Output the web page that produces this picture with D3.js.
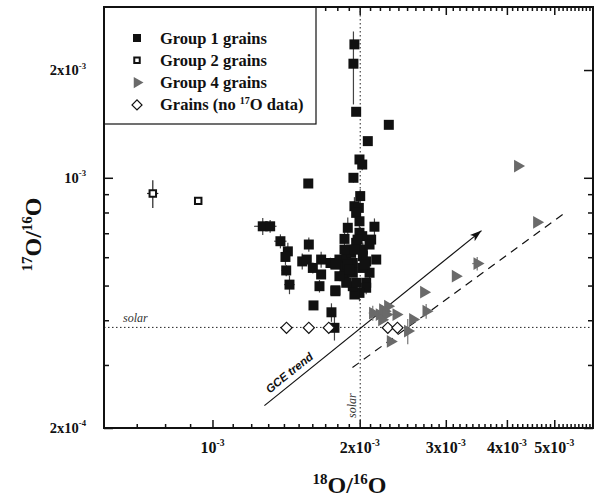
<!DOCTYPE html>
<html>
<head>
<meta charset="utf-8">
<script src="https://cdn.jsdelivr.net/npm/d3@7"></script>
<style>
body { margin: 0; background: #fff; }
svg { font-family: "Liberation Serif", "Times New Roman", serif; }
</style>
</head>
<body>
<script>
// Group 1 grains: 18O/16O and 17O/16O (units of 1e-3), with errors
var g1x = [1.951, 1.942, 1.967, 2.294, 2.078, 1.998, 2.024, 1.942, 1.570, 2.005,
    1.951, 1.992, 1.967, 1.998, 1.267, 1.312, 1.377, 1.426, 1.410, 1.574,
    1.415, 1.437, 1.526, 1.559, 1.604, 1.668, 1.668, 1.655, 1.784, 1.609,
    1.751, 1.776, 1.743, 1.818, 1.862, 1.891, 1.877, 1.862, 1.862, 2.144,
    2.111, 1.998, 1.967, 2.030, 2.162, 2.095, 2.062, 2.062, 1.998, 1.951,
    1.936, 1.877, 1.936, 1.921, 1.818, 2.024, 1.921, 1.784, 2.030, 1.784,
    1.967, 2.024, 1.936, 1.891, 2.062, 1.951, 2.046, 1.906, 2.095, 1.980,
    1.862];
var g1y = [2.359, 2.083, 1.529, 1.406, 1.266, 1.125, 1.089, 1.000, 0.964, 0.889,
    0.833, 0.824, 0.798, 0.756, 0.732, 0.732, 0.665, 0.623, 0.601, 0.651,
    0.551, 0.503, 0.584, 0.591, 0.560, 0.591, 0.537, 0.498, 0.485, 0.440,
    0.421, 0.381, 0.578, 0.591, 0.675, 0.725, 0.604, 0.560, 0.531, 0.730,
    0.672, 0.702, 0.658, 0.630, 0.591, 0.543, 0.509, 0.493, 0.477, 0.472,
    0.498, 0.509, 0.578, 0.617, 0.531, 0.687, 0.630, 0.482, 0.604, 0.572,
    0.509, 0.560, 0.543, 0.572, 0.584, 0.630, 0.572, 0.554, 0.651, 0.672,
    0.630];
var g1xErr = [0, 0, 0, 0, 0, 0.04, 0, 0.04, 0, 0,
    0, 0, 0, 0, 0.05, 0.04, 0.04, 0, 0, 0,
    0.03, 0.035, 0, 0, 0.03, 0, 0, 0, 0, 0,
    0, 0, 0, 0, 0.03, 0, 0, 0, 0, 0,
    0.03, 0, 0, 0, 0, 0, 0, 0, 0, 0,
    0, 0, 0, 0, 0, 0, 0, 0, 0, 0,
    0, 0, 0, 0, 0, 0, 0, 0, 0, 0,
    0];
var g1yErr = [0, 0.48, 0, 0, 0, 0.03, 0.04, 0.03, 0, 0.04,
    0.05, 0.06, 0, 0.06, 0.04, 0.03, 0.03, 0.035, 0.03, 0.03,
    0.02, 0.03, 0.03, 0, 0.02, 0.03, 0, 0.02, 0, 0,
    0.025, 0.03, 0.02, 0, 0.03, 0.05, 0, 0.03, 0, 0.04,
    0, 0.04, 0, 0.03, 0, 0.03, 0, 0.02, 0.025, 0,
    0, 0, 0, 0, 0, 0, 0, 0, 0, 0,
    0, 0, 0, 0, 0, 0, 0, 0, 0, 0,
    0];

// Group 2 grains
var g2x = [0.755, 0.935];
var g2y = [0.904, 0.862];
var g2xErr = [0.02, 0];
var g2yErr = [0.08, 0];

// Group 4 grains
var g4x = [4.210, 4.605, 3.478, 3.140, 2.705, 2.735, 2.568, 2.508, 2.375, 2.283,
    2.247, 2.195, 2.127, 2.312, 2.230, 2.266, 2.220];
var g4y = [1.078, 0.751, 0.576, 0.531, 0.479, 0.424, 0.402, 0.373, 0.415, 0.438,
    0.424, 0.415, 0.419, 0.349, 0.428, 0.415, 0.401];
var g4xErr = [0, 0, 0.08, 0, 0, 0, 0, 0, 0, 0, 0, 0, 0.04, 0, 0, 0, 0];
var g4yErr = [0, 0, 0.025, 0, 0, 0.02, 0, 0.03, 0, 0, 0, 0, 0.02, 0, 0, 0, 0];

// Grains without 17O data (plotted at solar 17O/16O)
var g0x = [1.417, 1.574, 1.729, 2.283, 2.389];
var g0y = [0.381, 0.381, 0.381, 0.381, 0.381];

// Solar ratios
var solar18 = 2.005e-3, solar17 = 3.82e-4;

// GCE trend arrow and dashed line (start, end)
var gceLine = [[1.277e-3, 2.31e-4], [3.55e-3, 7.12e-4]];
var dashLine = [[1.933e-3, 2.95e-4], [5.27e-3, 8.0e-4]];

// Ticks
var xMajor = [1e-3, 2e-3, 3e-3, 4e-3, 5e-3];
var xMajorText = ["10", "2x10", "3x10", "4x10", "5x10"];
var xMajorExp = ["-3", "-3", "-3", "-3", "-3"];
var xMinor = d3.range(7, 60).filter(function(d) { return d % 10 !== 0; })
    .map(function(d) { return d * 1e-4; });
var yMajor = [2e-4, 1e-3, 2e-3];
var yMajorText = ["2x10", "10", "2x10"];
var yMajorExp = ["-4", "-3", "-3"];
var yMinor = [3e-4, 4e-4, 5e-4, 6e-4, 7e-4, 8e-4, 9e-4];

var legendNames = ["Group 1 grains", "Group 2 grains", "Group 4 grains", "Grains (no "];

function drawChart() {
    // Frame
    var width = 596, height = 500;
    var pL = 104, pR = 593, pT = 7, pB = 428;

    var svg = d3.select("body").append("svg")
        .attr("width", width)
        .attr("height", height);

    var x = d3.scaleLog().domain([6e-4, 6e-3]).range([pL, pR]);
    var y = d3.scaleLog().domain([2e-4, 3e-3]).range([pB, pT]);

    // Ticks on all four sides pointing inward
    function tickAxis(axis, vals, len, tx, ty) {
        var g = svg.append("g")
            .attr("transform", "translate(" + tx + "," + ty + ")")
            .call(axis.tickValues(vals).tickSize(-len).tickSizeOuter(0).tickFormat(""));
        g.select(".domain").remove();
        g.selectAll("line").attr("stroke", "#111").attr("stroke-width", 1.5);
    }
    tickAxis(d3.axisBottom(x), xMinor, 4, 0, pB);
    tickAxis(d3.axisBottom(x), xMajor, 8, 0, pB);
    tickAxis(d3.axisTop(x), xMinor, 4, 0, pT);
    tickAxis(d3.axisTop(x), xMajor, 8, 0, pT);
    tickAxis(d3.axisLeft(y), yMinor, 5, pL, 0);
    tickAxis(d3.axisLeft(y), yMajor, 9, pL, 0);
    tickAxis(d3.axisRight(y), yMinor, 5, pR, 0);
    tickAxis(d3.axisRight(y), yMajor, 9, pR, 0);

    // Solar reference lines
    svg.append("line")
        .attr("x1", pL).attr("x2", pR)
        .attr("y1", y(solar17)).attr("y2", y(solar17))
        .attr("stroke", "#222").attr("stroke-width", 1).attr("stroke-dasharray", "1.5,2.5");
    svg.append("line")
        .attr("x1", x(solar18)).attr("x2", x(solar18))
        .attr("y1", pT).attr("y2", pB)
        .attr("stroke", "#222").attr("stroke-width", 1).attr("stroke-dasharray", "1.5,2.5");

    svg.append("text")
        .attr("x", pL + 19).attr("y", y(solar17) - 5)
        .attr("font-style", "italic").attr("font-size", 12).attr("fill", "#333")
        .text("solar");
    svg.append("text")
        .attr("transform", "translate(" + (x(solar18) - 4) + "," + (pB - 10) + ") rotate(-90)")
        .attr("font-style", "italic").attr("font-size", 12).attr("fill", "#333")
        .text("solar");

    // GCE trend arrow
    svg.append("defs").append("marker")
        .attr("id", "arrow")
        .attr("viewBox", "0 0 12 8")
        .attr("refX", 12).attr("refY", 4)
        .attr("markerWidth", 12).attr("markerHeight", 8)
        .attr("markerUnits", "userSpaceOnUse")
        .attr("orient", "auto")
        .append("path")
        .attr("d", "M0,0L12,4L0,8L3,4Z")
        .attr("fill", "#111");

    svg.append("line")
        .attr("x1", x(gceLine[0][0])).attr("y1", y(gceLine[0][1]))
        .attr("x2", x(gceLine[1][0])).attr("y2", y(gceLine[1][1]))
        .attr("stroke", "#111").attr("stroke-width", 1.2)
        .attr("marker-end", "url(#arrow)");

    svg.append("line")
        .attr("x1", x(dashLine[0][0])).attr("y1", y(dashLine[0][1]))
        .attr("x2", x(dashLine[1][0])).attr("y2", y(dashLine[1][1]))
        .attr("stroke", "#111").attr("stroke-width", 1.2)
        .attr("stroke-dasharray", "8,6");

    // "GCE trend" label along the arrow
    var gx0 = x(gceLine[0][0]), gy0 = y(gceLine[0][1]);
    var gx1 = x(gceLine[1][0]), gy1 = y(gceLine[1][1]);
    var ang = Math.atan2(gy1 - gy0, gx1 - gx0);
    var along = 40, off = 6;
    var lx = gx0 + along * Math.cos(ang) + off * Math.sin(ang);
    var ly = gy0 + along * Math.sin(ang) - off * Math.cos(ang);
    svg.append("text")
        .attr("transform", "translate(" + lx + "," + ly + ") rotate(" + (ang * 180 / Math.PI) + ")")
        .attr("text-anchor", "middle")
        .attr("font-family", "'Liberation Sans', Arial, sans-serif")
        .attr("font-style", "italic").attr("font-weight", "bold")
        .attr("font-size", 11.5).attr("fill", "#111")
        .text("GCE trend");

    // Error bars
    function errorBars(xs, ys, xe, ye, color) {
        var g = svg.append("g").attr("stroke", color).attr("stroke-width", 1.2);
        xs.forEach(function(v, i) {
            var cx = x(v * 1e-3), cy = y(ys[i] * 1e-3);
            if (xe[i] > 0) {
                g.append("line")
                    .attr("x1", x((v - xe[i]) * 1e-3)).attr("x2", x((v + xe[i]) * 1e-3))
                    .attr("y1", cy).attr("y2", cy);
            }
            if (ye[i] > 0) {
                g.append("line")
                    .attr("x1", cx).attr("x2", cx)
                    .attr("y1", y((ys[i] - ye[i]) * 1e-3)).attr("y2", y((ys[i] + ye[i]) * 1e-3));
            }
        });
    }
    errorBars(g1x, g1y, g1xErr, g1yErr, "#444");
    errorBars(g2x, g2y, g2xErr, g2yErr, "#222");
    errorBars(g4x, g4y, g4xErr, g4yErr, "#777");

    // Markers
    var squareSym = d3.symbol().type(d3.symbolSquare).size(100);
    var smallSquare = d3.symbol().type(d3.symbolSquare).size(42);
    var triSym = d3.symbol().type(d3.symbolTriangle).size(70);
    var diaSym = d3.symbol().type(d3.symbolSquare).size(62);

    svg.append("g").selectAll("path")
        .data(g4x)
        .enter()
        .append("path")
        .attr("d", triSym)
        .attr("transform", function(d, i) {
            return "translate(" + x(d * 1e-3) + "," + y(g4y[i] * 1e-3) + ") rotate(90)";
        })
        .attr("fill", "#6a6a6a");

    svg.append("g").selectAll("path")
        .data(g1x)
        .enter()
        .append("path")
        .attr("d", squareSym)
        .attr("transform", function(d, i) {
            return "translate(" + x(d * 1e-3) + "," + y(g1y[i] * 1e-3) + ")";
        })
        .attr("fill", "#111");

    svg.append("g").selectAll("path")
        .data(g2x)
        .enter()
        .append("path")
        .attr("d", smallSquare)
        .attr("transform", function(d, i) {
            return "translate(" + x(d * 1e-3) + "," + y(g2y[i] * 1e-3) + ")";
        })
        .attr("fill", "#fff").attr("stroke", "#111").attr("stroke-width", 2);

    svg.append("g").selectAll("path")
        .data(g0x)
        .enter()
        .append("path")
        .attr("d", diaSym)
        .attr("transform", function(d, i) {
            return "translate(" + x(d * 1e-3) + "," + y(g0y[i] * 1e-3) + ") rotate(45)";
        })
        .attr("fill", "#fff").attr("stroke", "#111").attr("stroke-width", 1.2);

    // Legend
    var legW = 212, legH = 117;
    svg.append("rect")
        .attr("x", pL).attr("y", pT)
        .attr("width", legW).attr("height", legH)
        .attr("fill", "#fff").attr("stroke", "#111").attr("stroke-width", 1.2);

    var legendSyms = [
        { d: d3.symbol().type(d3.symbolSquare).size(64), fill: "#111", stroke: "none", rot: 0 },
        { d: d3.symbol().type(d3.symbolSquare).size(30), fill: "#fff", stroke: "#111", rot: 0 },
        { d: d3.symbol().type(d3.symbolTriangle).size(55), fill: "#6a6a6a", stroke: "none", rot: 90 },
        { d: d3.symbol().type(d3.symbolSquare).size(50), fill: "#fff", stroke: "#111", rot: 45 }
    ];
    var legend = svg.append("g");
    legendNames.forEach(function(name, i) {
        var ly = pT + 31 + i * 22.3;
        var s = legendSyms[i];
        legend.append("path")
            .attr("d", s.d)
            .attr("transform", "translate(" + (pL + 33) + "," + ly + ") rotate(" + s.rot + ")")
            .attr("fill", s.fill).attr("stroke", s.stroke)
            .attr("stroke-width", i === 1 ? 2 : 1.2);
        var t = legend.append("text")
            .attr("x", pL + 56).attr("y", ly + 5.5)
            .attr("font-weight", "bold").attr("font-size", 16.5)
            .attr("fill", "#111")
            .text(name);
        if (i === 3) {
            t.append("tspan").attr("dy", -6.5).attr("font-size", 10).text("17");
            t.append("tspan").attr("dy", 6.5).text("O data)");
        }
    });

    // Tick labels
    function supText(g, base, exp, size) {
        g.append("tspan").text(base);
        g.append("tspan").attr("dy", -size * 0.45).attr("font-size", size * 0.6).text(exp);
    }
    xMajor.forEach(function(v, i) {
        var t = svg.append("text")
            .attr("x", x(v)).attr("y", pB + 25)
            .attr("text-anchor", "middle")
            .attr("font-weight", "bold").attr("font-size", 16).attr("fill", "#111");
        supText(t, xMajorText[i], xMajorExp[i], 16);
    });
    yMajor.forEach(function(v, i) {
        var t = svg.append("text")
            .attr("x", pL - 18).attr("y", y(v) + 5)
            .attr("text-anchor", "end")
            .attr("font-weight", "bold").attr("font-size", 14.5).attr("fill", "#111");
        supText(t, yMajorText[i], yMajorExp[i], 14.5);
    });

    // Axis titles
    var xt = svg.append("text")
        .attr("x", (pL + pR) / 2 + 1).attr("y", 493)
        .attr("text-anchor", "middle")
        .attr("font-weight", "bold").attr("font-size", 24).attr("fill", "#111");
    xt.append("tspan").attr("font-size", 15).attr("dy", -9).text("18");
    xt.append("tspan").attr("dy", 9).text("O/");
    xt.append("tspan").attr("font-size", 15).attr("dy", -9).text("16");
    xt.append("tspan").attr("dy", 9).text("O");

    var yt = svg.append("text")
        .attr("transform", "translate(41," + ((pT + pB) / 2 + 17) + ") rotate(-90)")
        .attr("text-anchor", "middle")
        .attr("font-weight", "bold").attr("font-size", 24).attr("fill", "#111");
    yt.append("tspan").attr("font-size", 15).attr("dy", -9).text("17");
    yt.append("tspan").attr("dy", 9).text("O/");
    yt.append("tspan").attr("font-size", 15).attr("dy", -9).text("16");
    yt.append("tspan").attr("dy", 9).text("O");

    // Plot frame
    svg.append("rect")
        .attr("x", pL).attr("y", pT)
        .attr("width", pR - pL).attr("height", pB - pT)
        .attr("fill", "none").attr("stroke", "#111").attr("stroke-width", 2);
}

drawChart();
</script>
</body>
</html>
